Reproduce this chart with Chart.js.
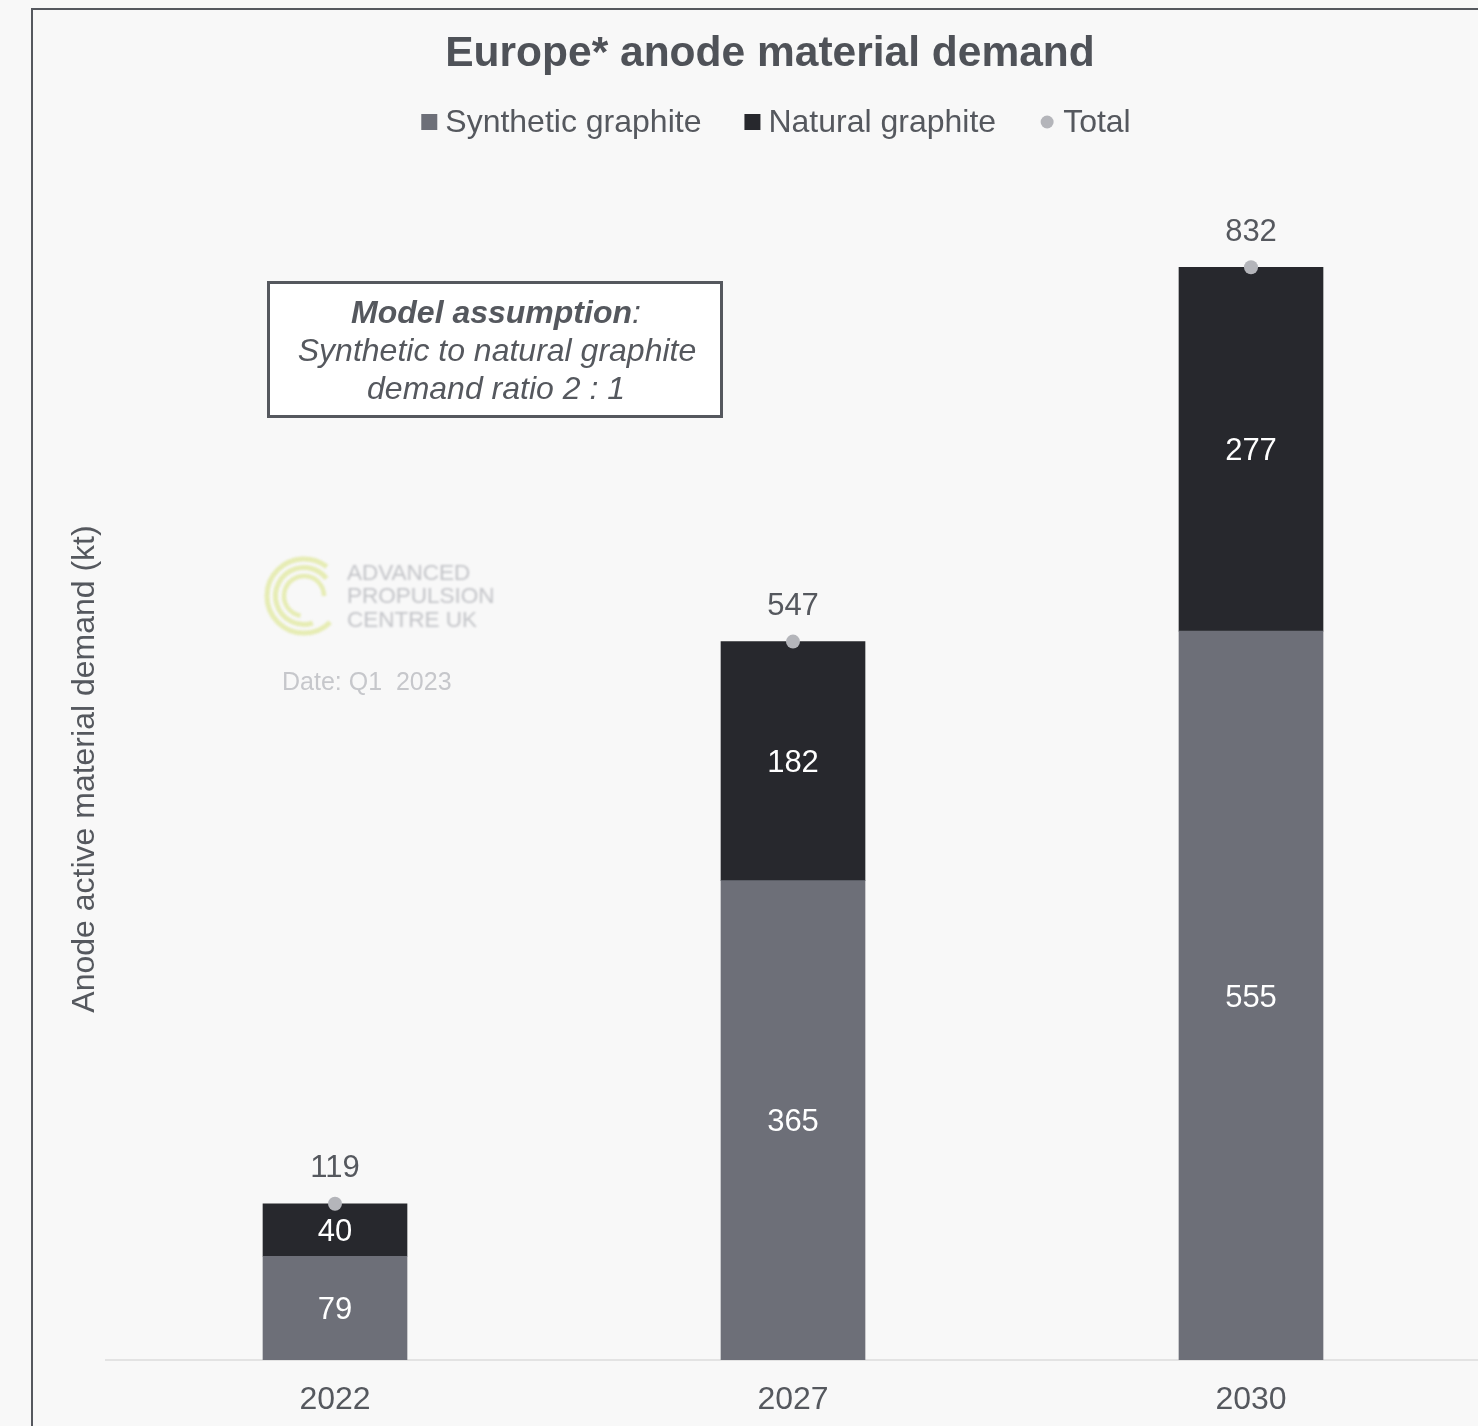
<!DOCTYPE html>
<html>
<head>
<meta charset="utf-8">
<title>Europe* anode material demand</title>
<script src="https://cdn.jsdelivr.net/npm/chart.js@4.4.1/dist/chart.umd.min.js"></script>
<style>
  html, body { margin: 0; padding: 0; background: #f8f8f8; overflow: hidden; }
  body { width: 1478px; height: 1426px; position: relative; }
  #frame {
    position: absolute; left: 31px; top: 8px; width: 1600px; height: 1600px;
    border-left: 2px solid #55585e; border-top: 2px solid #55585e;
  }
  #chart { position: absolute; left: 0; top: 0; }
</style>
</head>
<body>
<div id="frame"></div>
<canvas id="chart" width="1540" height="1426"></canvas>
<script>
// Anode active material demand in Europe, kt
const categories = ['2022', '2027', '2030'];
const syntheticValues = [79, 365, 555];
const naturalValues = [40, 182, 277];
const totalValues = [119, 547, 832];
const seriesNames = ['Synthetic graphite', 'Natural graphite', 'Total'];

const FONT = '"Liberation Sans", Arial, sans-serif';
const TEXT = '#55585e';
const SYN = '#6d6f78';
const NAT = '#27282d';
const DOT = '#b4b5ba';

// Segment values inside the bars, totals above the dots
const valueLabels = {
  id: 'valueLabels',
  afterDatasetsDraw(chart) {
    const ctx = chart.ctx;
    ctx.save();
    ctx.textAlign = 'center';
    ctx.textBaseline = 'middle';
    ctx.font = '31px ' + FONT;
    chart.data.datasets.forEach((ds, di) => {
      const meta = chart.getDatasetMeta(di);
      meta.data.forEach((el, i) => {
        const v = ds.data[i];
        if (ds.type === 'line') {
          ctx.fillStyle = TEXT;
          ctx.fillText(String(v), el.x, el.y - 35);
        } else {
          ctx.fillStyle = '#ffffff';
          ctx.fillText(String(v), el.x, (el.y + el.base) / 2 + 2.5);
        }
      });
    });
    ctx.restore();
  }
};

// Legend row under the title
const legendRow = {
  id: 'legendRow',
  afterDraw(chart) {
    const ctx = chart.ctx;
    ctx.save();
    ctx.font = '32px ' + FONT;
    ctx.textBaseline = 'middle';
    ctx.textAlign = 'left';
    const y = 122;
    const box = 16, gap = 8, spacing = 43;
    const items = chart.data.datasets.map(ds => ({
      label: ds.label,
      color: ds.type === 'line' ? ds.pointBackgroundColor : ds.backgroundColor,
      dot: ds.type === 'line',
      w: ctx.measureText(ds.label).width
    }));
    // bars first, then the total marker
    items.sort((a, b) => (a.dot ? 1 : 0) - (b.dot ? 1 : 0));
    const total = items.reduce((s, it) => s + box + gap + it.w, 0) + spacing * (items.length - 1);
    let x = 776 - total / 2;
    items.forEach(it => {
      ctx.fillStyle = it.color;
      if (it.dot) {
        ctx.beginPath();
        ctx.arc(x + box / 2, y, 6.5, 0, Math.PI * 2);
        ctx.fill();
      } else {
        ctx.fillRect(x, y - box / 2, box, box);
      }
      ctx.fillStyle = TEXT;
      ctx.fillText(it.label, x + box + gap, y + 1.5);
      x += box + gap + it.w + spacing;
    });
    ctx.restore();
  }
};

// Assumption note and watermark
const notes = {
  id: 'notes',
  beforeDatasetsDraw(chart) {
    const ctx = chart.ctx;
    ctx.save();
    // note box
    ctx.fillStyle = '#ffffff';
    ctx.fillRect(268.5, 282.5, 453, 134);
    ctx.strokeStyle = '#55585e';
    ctx.lineWidth = 3;
    ctx.strokeRect(268.5, 282.5, 453, 134);
    ctx.fillStyle = TEXT;
    ctx.textBaseline = 'middle';
    const cx = 496;
    ctx.font = 'italic bold 32px ' + FONT;
    const head = 'Model assumption';
    const hw = ctx.measureText(head).width;
    ctx.font = 'italic 32px ' + FONT;
    const cw = ctx.measureText(':').width;
    let sx = cx - (hw + cw) / 2;
    ctx.textAlign = 'left';
    ctx.font = 'italic bold 32px ' + FONT;
    ctx.fillText(head, sx, 314);
    ctx.font = 'italic 32px ' + FONT;
    ctx.fillText(':', sx + hw, 314);
    ctx.textAlign = 'center';
    ctx.fillText('Synthetic to natural graphite', cx + 1, 352);
    ctx.fillText('demand ratio 2 : 1', cx, 390);

    // watermark logo
    ctx.filter = 'blur(0.9px)';
    ctx.strokeStyle = '#e6ecb4';
    ctx.lineCap = 'butt';
    const lx = 304, ly = 596;
    const deg = Math.PI / 180;
    [[37, 5, 45, 308], [28.5, 5, 72, 322], [20, 4.5, 100, 360]].forEach(([r, w, a0, a1]) => {
      ctx.lineWidth = w;
      ctx.beginPath();
      ctx.arc(lx, ly, r, a0 * deg, a1 * deg);
      ctx.stroke();
    });
    ctx.fillStyle = '#c3c4c8';
    ctx.textAlign = 'left';
    ctx.font = '22.5px ' + FONT;
    ctx.fillText('ADVANCED', 347, 574);
    ctx.fillText('PROPULSION', 347, 597);
    ctx.fillText('CENTRE UK', 347, 621);
    ctx.filter = 'none';
    ctx.fillStyle = '#c6c7cb';
    ctx.font = '25px ' + FONT;
    ctx.fillText('Date: Q1  2023', 282, 683);
    ctx.restore();
  }
};

new Chart(document.getElementById('chart'), {
  data: {
    labels: categories,
    datasets: [
      {
        type: 'bar', label: seriesNames[0], data: syntheticValues,
        backgroundColor: SYN, stack: 'bars', order: 1, barThickness: 144
      },
      {
        type: 'bar', label: seriesNames[1], data: naturalValues,
        backgroundColor: NAT, stack: 'bars', order: 1, barThickness: 144
      },
      {
        type: 'line', label: seriesNames[2], data: totalValues,
        showLine: false, pointRadius: 7, pointHoverRadius: 7, pointBorderWidth: 0,
        pointBackgroundColor: DOT, borderColor: DOT, stack: 'total', order: 0, clip: false
      }
    ]
  },
  options: {
    responsive: false,
    animation: false,
    layout: { padding: 0 },
    plugins: {
      legend: { display: false },
      tooltip: { enabled: false },
      title: {
        display: true,
        text: 'Europe* anode material demand',
        color: '#4f5258',
        font: { family: FONT, size: 42.5, weight: 'bold', lineHeight: 1.2 },
        padding: { top: 29, bottom: 98 }
      }
    },
    scales: {
      x: {
        stacked: true,
        grid: { display: false, drawTicks: false },
        border: { display: true, color: '#e3e3e3', width: 2 },
        ticks: { color: TEXT, font: { family: FONT, size: 32 }, padding: 21 },
        afterFit(s) { s.height = 66; }
      },
      y: {
        stacked: true,
        min: 0, max: 900,
        grid: { display: false, drawTicks: false },
        border: { display: false },
        ticks: { display: false },
        title: {
          display: true,
          text: 'Anode active material demand (kt)',
          color: TEXT,
          font: { family: FONT, size: 32, lineHeight: 1.2 },
          padding: { top: 65.8, bottom: 0 }
        },
        afterFit(s) { s.width = 106; }
      },
      // empty right-hand margin of the plot
      yRight: {
        position: 'right',
        display: true,
        grid: { display: false, drawTicks: false },
        border: { display: false },
        ticks: { display: false },
        afterFit(s) { s.width = 60; }
      }
    }
  },
  plugins: [notes, valueLabels, legendRow]
});
</script>
</body>
</html>
